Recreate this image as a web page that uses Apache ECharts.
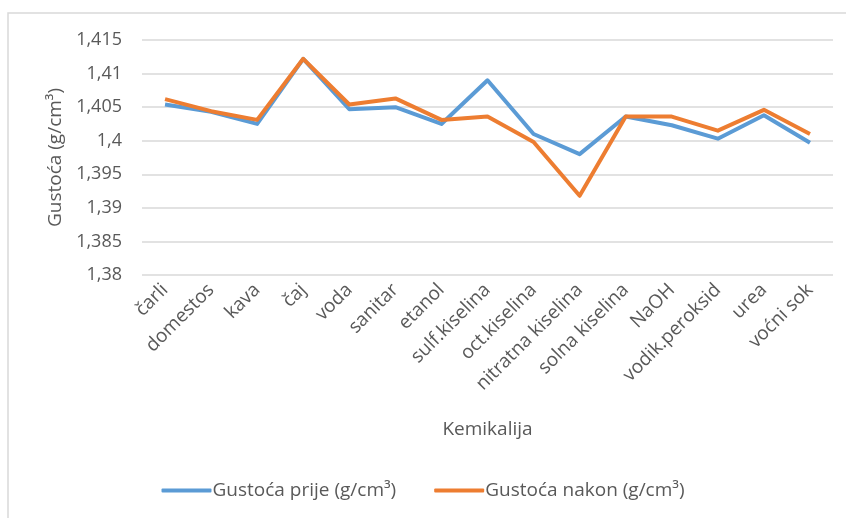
<!DOCTYPE html>
<html>
<head>
<meta charset="utf-8">
<script src="https://cdn.jsdelivr.net/npm/echarts@6/dist/echarts.min.js"></script>
<style>
  html, body { margin: 0; padding: 0; background: #fff; }
  #myChart { width: 846px; height: 518px; }
</style>
</head>
<body>
<div id="myChart"></div>
<script>
  // kategorije (kemikalije)
  var categories = ['čarli', 'domestos', 'kava', 'čaj', 'voda', 'sanitar', 'etanol', 'sulf.kiselina',
    'oct.kiselina', 'nitratna kiselina', 'solna kiselina', 'NaOH', 'vodik.peroksid', 'urea', 'voćni sok'];
  // gustoća prije
  var gustocaPrije = [1.4054, 1.4043, 1.4025, 1.4122, 1.4047, 1.4050, 1.4025, 1.4090,
    1.4010, 1.3980, 1.4036, 1.4023, 1.4003, 1.4038, 1.3997];
  // gustoća nakon
  var gustocaNakon = [1.4062, 1.4044, 1.4031, 1.4122, 1.4054, 1.4063, 1.4031, 1.4036,
    1.3998, 1.3918, 1.4036, 1.4036, 1.4015, 1.4046, 1.4010];
  var yMin = 1.38, yMax = 1.415, yStep = 0.005;

  var font = '"Open Sans", sans-serif';
  var myChart = echarts.init(document.getElementById('myChart'));

  var option = {
    backgroundColor: '#fff',
    textStyle: { fontFamily: font },
    graphic: [{
      type: 'rect',
      shape: { x: 8, y: 13, width: 900, height: 600 },
      style: { fill: 'none', stroke: '#d9d9d9', lineWidth: 1.5 },
      silent: true
    }],
    legend: {
      bottom: 13,
      left: 'center',
      itemWidth: 50,
      itemHeight: 4,
      itemGap: 38,
      icon: 'roundRect',
      textStyle: { fontFamily: font, fontSize: 19, color: '#595959', padding: [0, 0, 0, -4] },
      data: ['Gustoća prije (g/cm³)', 'Gustoća nakon (g/cm³)']
    },
    grid: { left: 142, right: 13, top: 40, bottom: 243 },
    xAxis: {
      type: 'category',
      data: categories,
      boundaryGap: true,
      name: 'Kemikalija',
      nameLocation: 'middle',
      nameGap: 145,
      nameTextStyle: { fontFamily: font, fontSize: 19, color: '#595959' },
      axisLine: { show: false },
      axisTick: { show: false },
      axisLabel: { rotate: 45, interval: 0, margin: 12, fontSize: 19, color: '#595959', fontFamily: font }
    },
    yAxis: {
      type: 'value',
      min: yMin,
      max: yMax,
      interval: yStep,
      name: 'Gustoća (g/cm³)',
      nameLocation: 'middle',
      nameGap: 77,
      nameTextStyle: { fontFamily: font, fontSize: 19, color: '#595959' },
      axisLine: { show: false },
      axisTick: { show: false },
      axisLabel: {
        margin: 20, fontSize: 18, color: '#595959', fontFamily: font,
        formatter: function (v) { return String(+v.toFixed(3)).replace('.', ','); }
      },
      splitLine: { lineStyle: { color: '#d9d9d9', width: 1.5 } }
    },
    series: [
      {
        name: 'Gustoća prije (g/cm³)',
        type: 'line',
        data: gustocaPrije,
        showSymbol: false,
        color: '#5B9BD5',
        lineStyle: { width: 4, color: '#5B9BD5', join: 'round' }
      },
      {
        name: 'Gustoća nakon (g/cm³)',
        type: 'line',
        data: gustocaNakon,
        showSymbol: false,
        color: '#ED7D31',
        lineStyle: { width: 4, color: '#ED7D31', join: 'round' }
      }
    ]
  };
  myChart.setOption(option);
</script>
</body>
</html>
